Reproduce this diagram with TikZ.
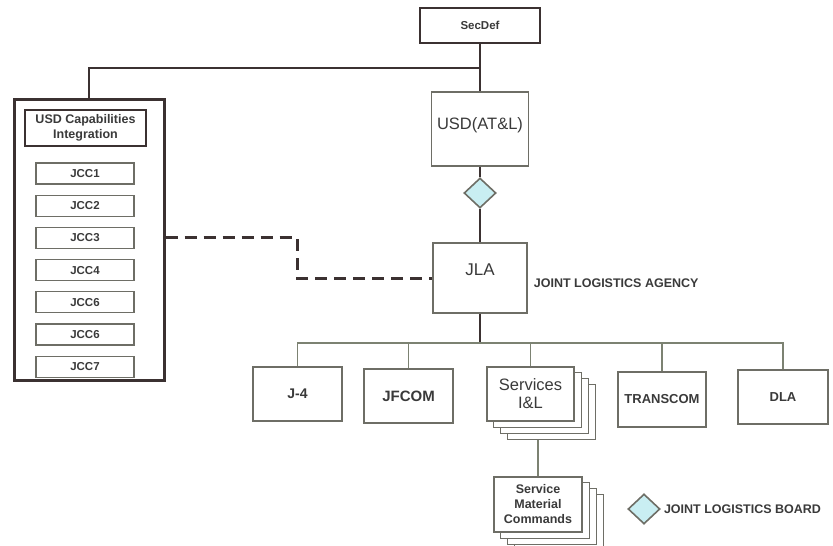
\documentclass[tikz,border=0pt]{standalone}
\usepackage{fontspec}
\setmainfont{Liberation Sans}
\usetikzlibrary{positioning}
\usetikzlibrary{shapes.geometric}
\usetikzlibrary{backgrounds}
\definecolor{linedark}{HTML}{3B3131}
\definecolor{linethin}{HTML}{7C8272}
\definecolor{boxgray}{HTML}{6E6E66}
\definecolor{boardcyan}{HTML}{C9EEF2}
\definecolor{textgray}{HTML}{3A3A3A}
\tikzset{orgbox/.style={rectangle,draw=boxgray,line width=1.4pt,fill=white,
    inner sep=0pt,text=textgray,align=center},
    bigbox/.style={orgbox,draw=linedark,line width=2.6pt},
    jccbox/.style={orgbox,line width=1.2pt,minimum width=98pt,
    minimum height=21pt,font=\fontsize{11.5}{13}\selectfont\bfseries},
    board/.style={diamond,draw=boxgray,line width=1.6pt,fill=boardcyan,
    inner sep=0pt,minimum width=32pt,minimum height=30pt},
    thickline/.style={-,linedark,line width=2.6pt},
    thinline/.style={-,linethin,line width=1.3pt},
    dashline/.style={-,linedark,line width=3pt,dash pattern=on 12pt off 7pt},
    stackline/.style={draw=boxgray,line width=1.2pt,fill=white},
    boardtext/.style={anchor=west,inner sep=0pt,text=textgray,
    font=\fontsize{12.5}{14}\selectfont\bfseries}}

\begin{document}
\begin{tikzpicture}[x=1pt,y=-1pt]
        \useasboundingbox (0,0) rectangle (833,546);
        % chain of command
        \node[bigbox,minimum width=120pt,minimum height=35pt,
            font=\fontsize{11.5}{13}\selectfont\bfseries] (secdef) at (480,25.5) {SecDef};
        \node[orgbox,minimum width=97pt,minimum height=74pt,
            font=\fontsize{16.5}{18}\selectfont] (usd) at (480,129) {\\[-14pt]USD(AT\&L)};
        \node[board] (jlb) at (480,193) {};
        \node[orgbox,minimum width=94pt,minimum height=70pt,
            font=\fontsize{17}{19}\selectfont] (jla) at (480,278) {JLA\\[-3pt]};
        \node[boardtext] (jlatext) at ([xshift=6pt,yshift=-5pt]jla.east) {JOINT LOGISTICS AGENCY};
        % capabilities integration column
        \node[bigbox,line width=3pt,minimum width=150pt,minimum height=281pt] (cap) at (89,239.5) {};
        \node[bigbox,line width=2.2pt,minimum width=121pt,minimum height=36pt,
            font=\fontsize{12.5}{15}\selectfont\bfseries] (capint) at (85.5,128)
            {USD Capabilities\\Integration};
        \node[jccbox] (jcc1) at (85,173.5) {JCC1};
        \foreach \i/\j/\t in {2/1/JCC2,3/2/JCC3,4/3/JCC4,5/4/JCC6,6/5/JCC6,7/6/JCC7}
            \node[jccbox,below=10pt of jcc\j] (jcc\i) {\t};
        % agencies under JLA
        \node[orgbox,minimum width=89pt,minimum height=54pt,
            font=\fontsize{14}{16}\selectfont\bfseries] (j4) at (297.5,394) {J-4};
        \node[orgbox,minimum width=89pt,minimum height=54pt,
            font=\fontsize{15}{17}\selectfont\bfseries] (jfcom) at (408.5,396) {JFCOM};
        \node[orgbox,minimum width=87pt,minimum height=54pt,
            font=\fontsize{16.5}{18}\selectfont] (srv) at (530.5,394) {Services\\I\&L};
        \node[orgbox,minimum width=88pt,minimum height=55pt,
            font=\fontsize{13}{15}\selectfont\bfseries] (transcom) at (662,399.5) {TRANSCOM};
        \node[orgbox,minimum width=90pt,minimum height=54pt,
            font=\fontsize{13}{15}\selectfont\bfseries] (dla) at (783,397) {DLA};
        \node[orgbox,line width=1.2pt,minimum width=88pt,minimum height=55pt,
            font=\fontsize{12.5}{15}\selectfont\bfseries] (smc) at (538,504.5)
            {Service\\Material\\Commands};
        \begin{scope}[on background layer]
            \foreach \k in {3,2,1}{
                \draw[stackline] ([shift={(7*\k,6*\k)}]srv.north west)
                    rectangle ([shift={(7*\k,6*\k)}]srv.south east);
                \draw[stackline] ([shift={(7*\k,6*\k)}]smc.north west)
                    rectangle ([shift={(7*\k,6*\k)}]smc.south east);
            }
        \end{scope}
        % legend
        \node[board] (legend) at (644,509) {};
        \node[boardtext] (legendtext) at ([xshift=3pt]legend.east) {JOINT LOGISTICS BOARD};
        % connectors
        \coordinate (top) at (0,68);
        \coordinate (bar) at (0,343);
        \coordinate (srvbottom) at ([yshift=-18pt]srv.south);
        \coordinate (dbend) at (297,278);
        \draw[thickline](secdef)--(usd);
        \draw[thickline](secdef.south |- top) -| (cap.north);
        \draw[thickline](usd)--(jlb);\draw[thickline](jlb)--(jla);
        \draw[thickline](jla.south)--(jla.south |- bar);
        \draw[thinline](j4.north)--(j4.north |- bar)--(dla.north |- bar)--(dla.north);
        \foreach \n in {jfcom,srv,transcom}
            \draw[thinline](\n.north)--(\n.north |- bar);
        \draw[thinline](smc.north)--(smc.north |- srvbottom);
        \draw[dashline](cap.east |- jcc3) -| (dbend) -- (jla.west);
    \end{tikzpicture}
\end{document}
